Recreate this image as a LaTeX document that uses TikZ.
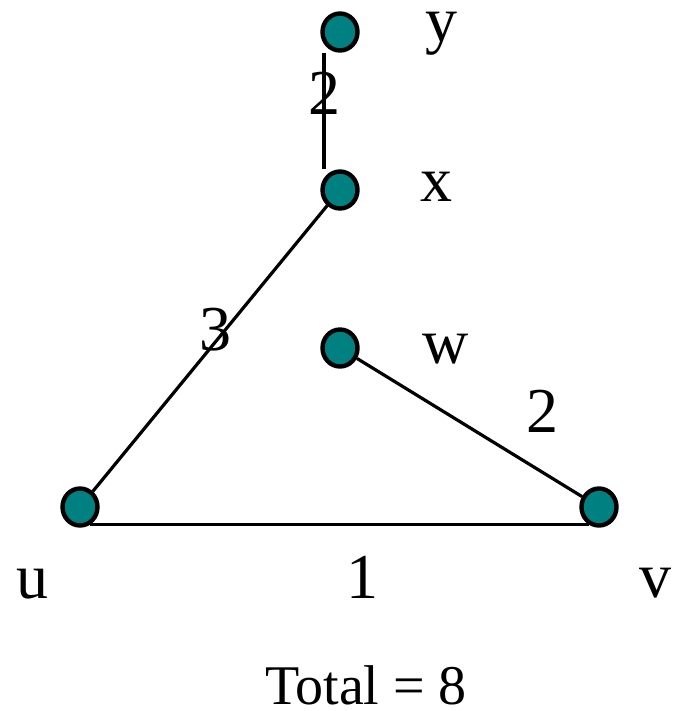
\documentclass[tikz,border=0pt]{standalone}
\usepackage{fontspec}
\setmainfont{Liberation Serif}
\usepackage{xcolor}
\usepackage{tikz}
\usetikzlibrary{calc,shapes.geometric}
\definecolor{tealx}{HTML}{008080}
\tikzset{
  vtx/.style={ellipse,draw=black,line width=2.2pt,fill=tealx,minimum width=17.5pt,minimum height=18.5pt,inner sep=0pt},
  edg/.style={black,line width=1.6pt},
  lbl/.style={anchor=base,inner sep=0pt,font=\fontsize{32}{36}\selectfont}
}
\begin{document}
\begin{tikzpicture}[x=0.5pt,y=-0.5pt]
\useasboundingbox (0,0) rectangle (678,711);
\node[vtx] (y) at (340,32) {};
\node[vtx] (x) at (340,190) {};
\node[vtx] (w) at (340,348) {};
\node[vtx] (u) at (80,507) {};
\node[vtx] (v) at (599,507) {};
\draw[edg] ([xshift=-8pt]y.south) -- ([xshift=-8pt]x.north);
\draw[edg] (x) -- (u);
\draw[edg] (w) -- (v);
\draw[edg] (u.-60) -- (v.-120);
\node[lbl,text height=0.5em] (ly) at (441,42) {y};
\node[lbl] (lx) at (436,202) {x};
\node[lbl] (lw) at (446,363) {w};
\node[lbl] (lu) at (33,598) {u};
\node[lbl] (lv) at (655,597) {v};
\node[lbl] (e1) at (362,598) {1};
\node[lbl] (e2a) at (324,115) {2};
\node[lbl] (e3) at (215,350) {3};
\node[lbl] (e2b) at (542,432) {2};
\node[anchor=base,inner sep=0pt,font=\fontsize{28}{32}\selectfont] (tot) at (366,704) {Total = 8};
\end{tikzpicture}
\end{document}
